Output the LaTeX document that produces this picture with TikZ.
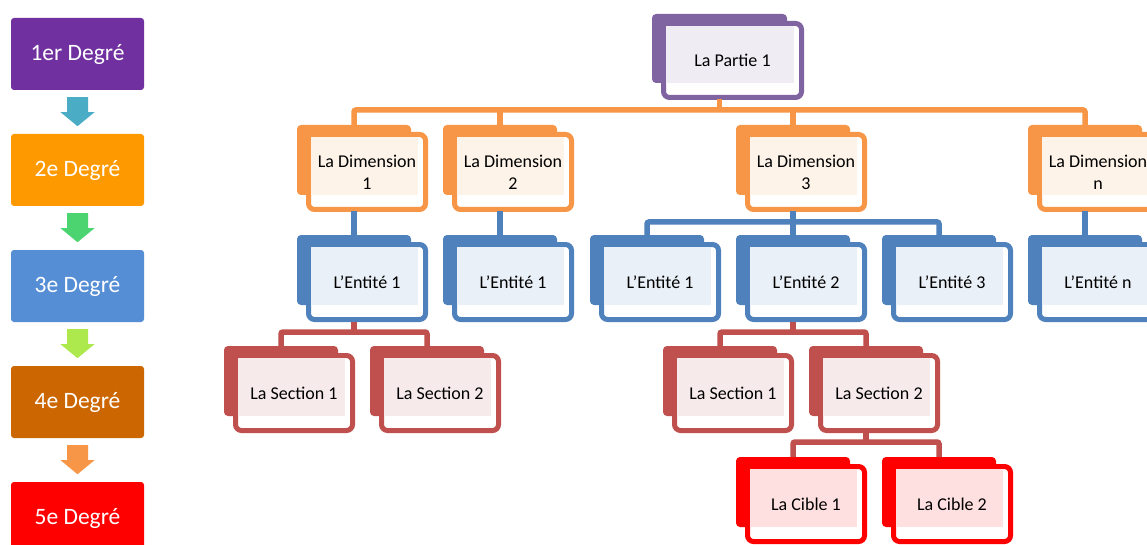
\documentclass[tikz,border=0pt]{standalone}
\usepackage{fontspec}
\setmainfont{Carlito}
\definecolor{degA}{HTML}{7030A0}
\definecolor{degB}{HTML}{FF9900}
\definecolor{degC}{HTML}{558ED5}
\definecolor{degD}{HTML}{CC6600}
\definecolor{degE}{HTML}{FF0000}
\definecolor{arrA}{HTML}{4BACC6}
\definecolor{arrB}{HTML}{4BD46F}
\definecolor{arrC}{HTML}{ADE94C}
\definecolor{arrD}{HTML}{F79646}
\definecolor{orgPurple}{HTML}{8064A2}
\definecolor{orgOrange}{HTML}{F79646}
\definecolor{orgBlue}{HTML}{4F81BD}
\definecolor{orgRed}{HTML}{C0504D}
\definecolor{orgBright}{HTML}{FF0000}
% one org-chart unit: shadow tab, framed card, tinted text area, label
% #1 name, #2 colour, #3/#4 top-left of the tab, #5/#6 tab size, #7 label
\newcommand\orgunit[7]{%
  \fill[#2, rounded corners=4pt] (#3,#4) rectangle ++(#5,#6);
  \draw[#2, line width=5pt, fill=white, rounded corners=6pt]
    (#3+11.5,#4+9.5) rectangle (#3+#5+14.5,#4+#6+14.5);
  \fill[#2!12] (#3+14,#4+12) rectangle (#3+#5+7,#4+#6);
  \node[orgtext] (#1) at (#3+#5/2+13,#4+#6/2+12) {#7};
  \coordinate (#1-top) at (#3+#5/2,#4);
  \coordinate (#1-bot) at (#3+#5/2,#4+#6+16.5);
}
\begin{document}
\begin{tikzpicture}[x=1pt,y=-1pt,
  deg/.style={rounded corners=3pt, minimum width=133pt, minimum height=72pt,
    inner sep=0pt, text=white, font=\fontsize{23.5}{28}\selectfont},
  orgtext/.style={align=center, inner sep=0pt, text=black,
    font=\fontsize{18}{22}\selectfont},
  conn/.style={draw=#1, line width=5.5pt, rounded corners=2pt},
  blockarrow/.style={fill=#1}]
\useasboundingbox (0,0) rectangle (1147,545);
\clip (0,0) rectangle (1147,545);
\fill[white] (0,0) rectangle (1147,545);

% ---- degree legend ----
\node[deg, fill=degA] (g1) at (77.5,54)  {1er Degré};
\node[deg, fill=degB] (g2) at (77.5,170) {2e Degré};
\node[deg, fill=degC] (g3) at (77.5,286) {3e Degré};
\node[deg, fill=degD] (g4) at (77.5,402) {4e Degré};
\node[deg, fill=degE] (g5) at (77.5,518) {5e Degré};
\foreach \a/\c in {g1/arrA, g2/arrB, g3/arrC, g4/arrD}{
  \fill[\c] (\a.south) ++(-10.5,7) -- ++(21,0) -- ++(0,15) -- ++(6.5,0)
    -- ++(-17,14) -- ++(-17,-14) -- ++(6.5,0) -- cycle;
}

% ---- organisation chart ----
\orgunit{p}{orgPurple}{652}{14}{135}{69}{La Partie 1}

\orgunit{d1}{orgOrange}{297}{125}{114}{70}{La Dimension\\1}
\orgunit{d2}{orgOrange}{443}{125}{114}{70}{La Dimension\\2}
\orgunit{d3}{orgOrange}{736}{125}{114}{70}{La Dimension\\3}
\orgunit{dn}{orgOrange}{1028}{125}{114}{70}{La Dimension\\n}

\orgunit{e1}{orgBlue}{297}{235}{114}{70}{L’Entité 1}
\orgunit{e2}{orgBlue}{443}{235}{114}{70}{L’Entité 1}
\orgunit{e3}{orgBlue}{590}{235}{114}{70}{L’Entité 1}
\orgunit{e4}{orgBlue}{736}{235}{114}{70}{L’Entité 2}
\orgunit{e5}{orgBlue}{882}{235}{114}{70}{L’Entité 3}
\orgunit{en}{orgBlue}{1028}{235}{114}{70}{L'Entité n}

\orgunit{s1}{orgRed}{224}{346}{114}{70}{La Section 1}
\orgunit{s2}{orgRed}{370}{346}{114}{70}{La Section 2}
\orgunit{s3}{orgRed}{663}{346}{114}{70}{La Section 1}
\orgunit{s4}{orgRed}{809}{346}{114}{70}{La Section 2}

\orgunit{c1}{orgBright}{736}{457}{114}{70}{La Cible 1}
\orgunit{c2}{orgBright}{882}{457}{114}{70}{La Cible 2}

% connectors: partie -> dimensions
\draw[conn=orgOrange] (p-bot) -- (p-bot |- 0,110);
\draw[conn=orgOrange] (d1-top) -- (d1-top |- 0,110) -- (dn-top |- 0,110) -- (dn-top);
\draw[conn=orgOrange] (d2-top) -- (d2-top |- 0,110);
\draw[conn=orgOrange] (d3-top) -- (d3-top |- 0,110);

% dimensions -> entities
\draw[conn=orgBlue] (d1-bot) -- (e1-top);
\draw[conn=orgBlue] (d2-bot) -- (e2-top);
\draw[conn=orgBlue] (dn-bot) -- (en-top);
\draw[conn=orgBlue] (d3-bot) -- (d3-bot |- 0,222);
\draw[conn=orgBlue] (e3-top) -- (e3-top |- 0,222) -- (e5-top |- 0,222) -- (e5-top);
\draw[conn=orgBlue] (e4-top) -- (e4-top |- 0,222);

% entities -> sections
\draw[conn=orgRed] (e1-bot) -- (e1-bot |- 0,332);
\draw[conn=orgRed] (s1-top) -- (s1-top |- 0,332) -- (s2-top |- 0,332) -- (s2-top);
\draw[conn=orgRed] (e4-bot) -- (e4-bot |- 0,332);
\draw[conn=orgRed] (s3-top) -- (s3-top |- 0,332) -- (s4-top |- 0,332) -- (s4-top);

% section -> targets
\draw[conn=orgRed] (s4-bot) -- (s4-bot |- 0,442);
\draw[conn=orgRed] (c1-top) -- (c1-top |- 0,442) -- (c2-top |- 0,442) -- (c2-top);
\end{tikzpicture}
\end{document}
